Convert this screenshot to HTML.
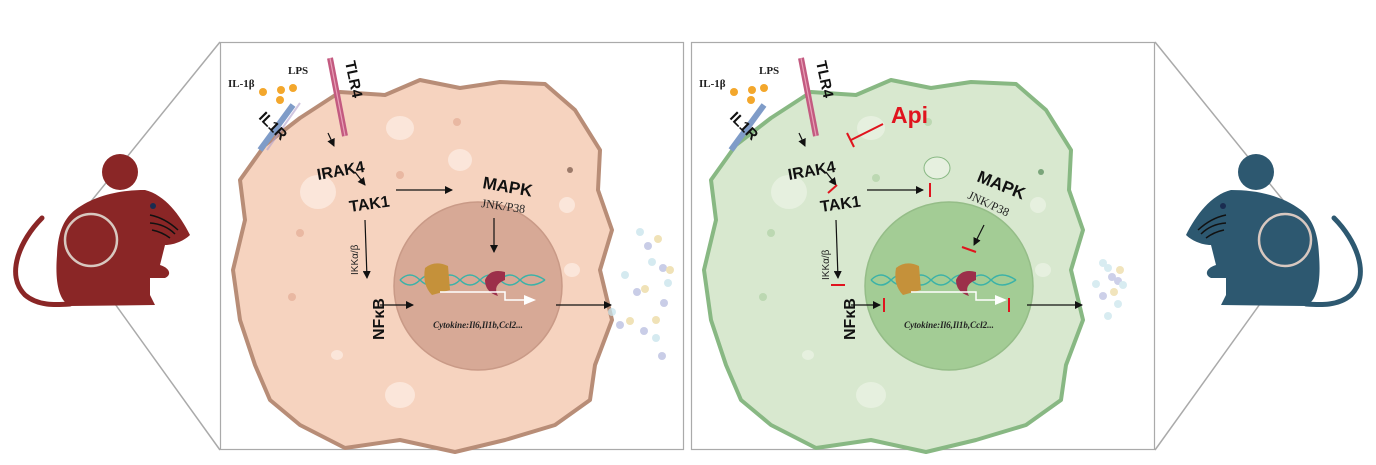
<!DOCTYPE html>
<html><head><meta charset="utf-8"><style>
html,body{margin:0;padding:0;background:#fff;}
svg{display:block}
text{font-family:"Liberation Sans",sans-serif;}
.b{font-weight:bold;fill:#111}
.s{font-family:"Liberation Serif",serif;fill:#222}
</style></head><body>
<svg width="1376" height="465" viewBox="0 0 1376 465" xmlns="http://www.w3.org/2000/svg">
<defs>
<marker id="ar" markerWidth="8" markerHeight="8" refX="7" refY="4" orient="auto" markerUnits="userSpaceOnUse"><path d="M0,0 L8,4 L0,8 z" fill="#111"/></marker>
<g id="mouse">
 <path d="M42,218 C20,240 5,275 25,295 C38,306 55,305 70,304" fill="none" stroke="currentColor" stroke-width="5" stroke-linecap="round"/>
 <circle cx="120" cy="172" r="18" fill="currentColor"/>
 <path d="M75,210 C95,195 120,190 145,190 C165,195 180,215 190,235 C185,240 175,245 165,245 L160,265 C170,268 172,275 165,278 L150,278 L150,295 L155,305 L70,306 C58,300 55,280 57,255 C58,230 65,218 75,210z" fill="currentColor"/>
 <circle cx="153" cy="206" r="3" fill="#1a2c50"/>
 <path d="M150,215 Q165,218 178,230 M150,223 Q165,224 175,234 M152,230 Q162,232 170,238" stroke="#111" stroke-width="1.5" fill="none"/>
 <circle cx="91" cy="240" r="26" fill="none" stroke="#d8c8c0" stroke-width="2.5"/>
</g>
</defs>

<!-- connector lines -->
<line x1="220" y1="42" x2="80" y2="215" stroke="#aaa" stroke-width="1.5"/>
<line x1="82" y1="258" x2="220" y2="450" stroke="#aaa" stroke-width="1.5"/>
<line x1="1155" y1="42" x2="1295" y2="215" stroke="#aaa" stroke-width="1.5"/>
<line x1="1293" y1="258" x2="1155" y2="450" stroke="#aaa" stroke-width="1.5"/>

<g style="color:#8a2626"><use href="#mouse"/></g>
<g style="color:#2d5870" transform="translate(1376,0) scale(-1,1)"><use href="#mouse"/></g>

<!-- boxes -->
<rect x="220.5" y="42.5" width="463" height="407" fill="#fff" stroke="#aaa" stroke-width="1.2"/>
<rect x="691.5" y="42.5" width="463" height="407" fill="#fff" stroke="#aaa" stroke-width="1.2"/>

<!-- LEFT PANEL -->
<g id="cellL">
<polygon points="300,118 340,92 385,95 420,80 460,88 500,82 545,84 575,110 600,150 598,190 612,230 600,270 612,320 595,365 590,400 555,425 505,440 455,452 400,440 345,448 300,425 270,400 255,365 240,320 233,270 245,220 240,180 265,145" fill="#f6d3bf" stroke="#b88d77" stroke-width="4" stroke-linejoin="round"/>
<ellipse cx="400" cy="128" rx="14" ry="12" fill="#fbe6da"/>
<ellipse cx="460" cy="160" rx="12" ry="11" fill="#fbe6da"/>
<ellipse cx="318" cy="192" rx="18" ry="17" fill="#fbe6da"/>
<ellipse cx="567" cy="205" rx="8" ry="8" fill="#fbe6da"/>
<ellipse cx="572" cy="270" rx="8" ry="7" fill="#fbe6da"/>
<ellipse cx="400" cy="395" rx="15" ry="13" fill="#fbe6da"/>
<ellipse cx="337" cy="355" rx="6" ry="5" fill="#fbe6da"/>
<circle cx="457" cy="122" r="4" fill="#e9b8a2"/><circle cx="300" cy="233" r="4" fill="#e9b8a2"/><circle cx="292" cy="297" r="4" fill="#e9b8a2"/><circle cx="570" cy="170" r="3" fill="#9c7a6a"/><circle cx="400" cy="175" r="4" fill="#e9b8a2"/>
<circle cx="478" cy="286" r="84" fill="#d7a996" stroke="#c99a87" stroke-width="1.5"/>
<path d="M400,280 Q410,270 420,280 T440,280 T460,280 T480,280 T500,280 T520,280 T545,280 M400,280 Q410,290 420,280 T440,280 T460,280 T480,280 T500,280 T520,280 T545,280" stroke="#3bb2a8" stroke-width="1.5" fill="none"/>
<path d="M425,268 Q435,260 448,266 L450,290 L432,295 Q422,285 425,268z" fill="#c5913a"/>
<path d="M505,272 Q490,268 485,280 Q485,292 498,296 Q492,285 505,280z" fill="#9c2f4a"/>
<path d="M440,292 L505,292 L505,300 L530,300" stroke="#fff" stroke-width="1.5" fill="none"/><path d="M524,295 L536,300 L524,305z" fill="#fff"/>
<text x="478" y="328" class="s" font-size="9" font-style="italic" font-weight="bold" text-anchor="middle">Cytokine:Il6,Il1b,Ccl2...</text>
<line x1="293" y1="105" x2="260" y2="150" stroke="#7f9cc8" stroke-width="6"/><line x1="300" y1="103" x2="267" y2="150" stroke="#b3a1cc" stroke-width="2" opacity=".6"/>
<line x1="330" y1="58" x2="345" y2="136" stroke="#c35a80" stroke-width="6"/><line x1="330" y1="58" x2="345" y2="136" stroke="#e8a0b8" stroke-width="1.2"/>
<circle cx="263" cy="92" r="4" fill="#f3a72c"/><circle cx="281" cy="90" r="4" fill="#f3a72c"/><circle cx="293" cy="88" r="4" fill="#f3a72c"/><circle cx="280" cy="100" r="4" fill="#f3a72c"/>
<text x="228" y="87" class="s" font-size="11" font-weight="bold">IL-1β</text>
<text x="288" y="74" class="s" font-size="11" font-weight="bold">LPS</text>
<text transform="translate(345,62) rotate(78)" class="b" font-size="15">TLR4</text>
<text transform="translate(258,118) rotate(45)" class="b" font-size="15">IL1R</text>
<text transform="translate(318,180) rotate(-10)" class="b" font-size="16">IRAK4</text>
<text transform="translate(350,212) rotate(-8)" class="b" font-size="16">TAK1</text>
<text transform="translate(482,188) rotate(10)" class="b" font-size="17">MAPK</text>
<text transform="translate(481,207) rotate(8)" class="s" font-size="12">JNK/P38</text>
<text transform="translate(358,275) rotate(-90)" font-size="10" fill="#222">IKKα/β</text>
<text transform="translate(384,340) rotate(-90)" class="b" font-size="16">NFκB</text>
<g stroke="#111" stroke-width="1.2" fill="none" marker-end="url(#ar)">
<line x1="328" y1="133" x2="334" y2="146"/>
<line x1="355" y1="172" x2="365" y2="185"/>
<line x1="396" y1="190" x2="452" y2="190"/>
<line x1="494" y1="218" x2="494" y2="252"/>
<line x1="365" y1="220" x2="367" y2="278"/>
<line x1="380" y1="305" x2="413" y2="305"/>
<line x1="556" y1="305" x2="611" y2="305"/>
</g>
</g>
<g opacity=".75">
<circle cx="640" cy="232" r="4" fill="#c8e4ec"/><circle cx="648" cy="246" r="4" fill="#b8bde0"/><circle cx="658" cy="239" r="4" fill="#ecd9a0"/><circle cx="652" cy="262" r="4" fill="#c8e4ec"/><circle cx="663" cy="268" r="4" fill="#b8bde0"/><circle cx="670" cy="270" r="4" fill="#ecd9a0"/><circle cx="625" cy="275" r="4" fill="#c8e4ec"/><circle cx="637" cy="292" r="4" fill="#b8bde0"/><circle cx="645" cy="289" r="4" fill="#ecd9a0"/><circle cx="668" cy="283" r="4" fill="#c8e4ec"/><circle cx="612" cy="312" r="4" fill="#c8e4ec"/><circle cx="620" cy="325" r="4" fill="#b8bde0"/><circle cx="630" cy="321" r="4" fill="#ecd9a0"/><circle cx="656" cy="320" r="4" fill="#ecd9a0"/><circle cx="644" cy="331" r="4" fill="#b8bde0"/><circle cx="656" cy="338" r="4" fill="#c8e4ec"/><circle cx="662" cy="356" r="4" fill="#b8bde0"/><circle cx="664" cy="303" r="4" fill="#b8bde0"/>
</g>

<!-- RIGHT PANEL -->
<g transform="translate(471,0)">
<polygon points="300,118 340,92 385,95 420,80 460,88 500,82 545,84 575,110 600,150 598,190 612,230 600,270 612,320 595,365 590,400 555,425 505,440 455,452 400,440 345,448 300,425 270,400 255,365 240,320 233,270 245,220 240,180 265,145" fill="#d8e8cf" stroke="#88b883" stroke-width="4" stroke-linejoin="round"/>
<ellipse cx="400" cy="128" rx="14" ry="12" fill="#e6f0df"/>
<ellipse cx="466" cy="168" rx="13" ry="11" fill="#e6f0df" stroke="#88b883" stroke-width="1"/>
<ellipse cx="318" cy="192" rx="18" ry="17" fill="#e6f0df"/>
<ellipse cx="567" cy="205" rx="8" ry="8" fill="#e6f0df"/>
<ellipse cx="572" cy="270" rx="8" ry="7" fill="#e6f0df"/>
<ellipse cx="400" cy="395" rx="15" ry="13" fill="#e6f0df"/>
<ellipse cx="337" cy="355" rx="6" ry="5" fill="#e6f0df"/>
<circle cx="457" cy="122" r="4" fill="#bcd8b2"/><circle cx="300" cy="233" r="4" fill="#bcd8b2"/><circle cx="292" cy="297" r="4" fill="#bcd8b2"/><circle cx="570" cy="172" r="3" fill="#7aa57a"/><circle cx="405" cy="178" r="4" fill="#bcd8b2"/>
<circle cx="478" cy="286" r="84" fill="#a3cc95" stroke="#95bd88" stroke-width="1.5"/>
<path d="M400,280 Q410,270 420,280 T440,280 T460,280 T480,280 T500,280 T520,280 T545,280 M400,280 Q410,290 420,280 T440,280 T460,280 T480,280 T500,280 T520,280 T545,280" stroke="#3bb2a8" stroke-width="1.5" fill="none"/>
<path d="M425,268 Q435,260 448,266 L450,290 L432,295 Q422,285 425,268z" fill="#c5913a"/>
<path d="M505,272 Q490,268 485,280 Q485,292 498,296 Q492,285 505,280z" fill="#9c2f4a"/>
<path d="M440,292 L505,292 L505,300 L530,300" stroke="#fff" stroke-width="1.5" fill="none"/><path d="M524,295 L536,300 L524,305z" fill="#fff"/>
<text x="478" y="328" class="s" font-size="9" font-style="italic" font-weight="bold" text-anchor="middle">Cytokine:Il6,Il1b,Ccl2...</text>
<line x1="293" y1="105" x2="260" y2="150" stroke="#7f9cc8" stroke-width="6"/>
<line x1="330" y1="58" x2="345" y2="136" stroke="#c35a80" stroke-width="6"/><line x1="330" y1="58" x2="345" y2="136" stroke="#e8a0b8" stroke-width="1.2"/>
<circle cx="263" cy="92" r="4" fill="#f3a72c"/><circle cx="281" cy="90" r="4" fill="#f3a72c"/><circle cx="293" cy="88" r="4" fill="#f3a72c"/><circle cx="280" cy="100" r="4" fill="#f3a72c"/>
<text x="228" y="87" class="s" font-size="11" font-weight="bold">IL-1β</text>
<text x="288" y="74" class="s" font-size="11" font-weight="bold">LPS</text>
<text transform="translate(345,62) rotate(78)" class="b" font-size="15">TLR4</text>
<text transform="translate(258,118) rotate(45)" class="b" font-size="15">IL1R</text>
<text transform="translate(318,180) rotate(-10)" class="b" font-size="16">IRAK4</text>
<text transform="translate(350,212) rotate(-8)" class="b" font-size="16">TAK1</text>
<text transform="translate(505,181) rotate(22)" class="b" font-size="17">MAPK</text>
<text transform="translate(496,198) rotate(25)" class="s" font-size="12">JNK/P38</text>
<text transform="translate(358,280) rotate(-90)" font-size="10" fill="#222">IKKα/β</text>
<text transform="translate(384,340) rotate(-90)" class="b" font-size="16">NFκB</text>
<text x="420" y="123" font-size="23" font-weight="bold" fill="#e0141e">Api</text>
<g stroke="#111" stroke-width="1.2" fill="none" marker-end="url(#ar)">
<line x1="328" y1="133" x2="334" y2="146"/>
<line x1="355" y1="172" x2="365" y2="185"/>
<line x1="396" y1="190" x2="452" y2="190"/>
<line x1="513" y1="225" x2="503" y2="245"/>
<line x1="365" y1="220" x2="367" y2="278"/>
<line x1="380" y1="305" x2="409" y2="305"/>
<line x1="556" y1="305" x2="611" y2="305"/>
</g>
<g stroke="#e0141e" stroke-width="2" fill="none">
<line x1="412" y1="124" x2="380" y2="140"/><line x1="376" y1="133" x2="383" y2="147"/>
<line x1="357" y1="193" x2="366" y2="185"/>
<line x1="459" y1="183" x2="459" y2="197"/>
<line x1="491" y1="247" x2="505" y2="252"/>
<line x1="360" y1="285" x2="374" y2="285"/>
<line x1="413" y1="298" x2="413" y2="312"/>
<line x1="538" y1="298" x2="538" y2="312"/>
</g>
</g>
<g opacity=".7">
<circle cx="1103" cy="263" r="4" fill="#c8e4ec"/><circle cx="1108" cy="268" r="4" fill="#c8e4ec"/><circle cx="1120" cy="270" r="4" fill="#ecd9a0"/><circle cx="1112" cy="277" r="4" fill="#b8bde0"/><circle cx="1118" cy="281" r="4" fill="#b8bde0"/><circle cx="1123" cy="285" r="4" fill="#c8e4ec"/><circle cx="1096" cy="284" r="4" fill="#c8e4ec"/><circle cx="1103" cy="296" r="4" fill="#b8bde0"/><circle cx="1114" cy="292" r="4" fill="#ecd9a0"/><circle cx="1118" cy="304" r="4" fill="#c8e4ec"/><circle cx="1108" cy="316" r="4" fill="#c8e4ec"/>
</g>
</svg>
</body></html>
